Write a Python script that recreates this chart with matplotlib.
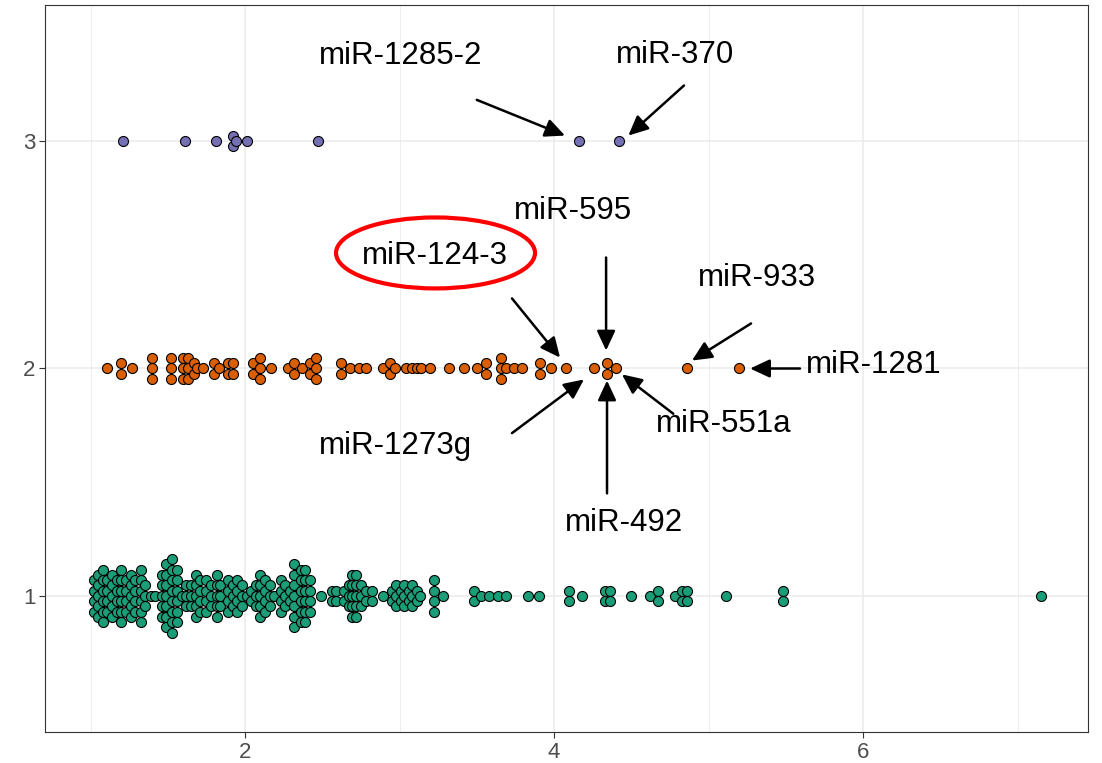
import numpy as np
import matplotlib
matplotlib.use("Agg")
import matplotlib.pyplot as plt
from matplotlib.patches import Ellipse

# ---------------- data ----------------
group_levels = [1, 2, 3]
group_colors = ["#1B9E77", "#D95F02", "#7570B3"]

group1_values = [
    1.02, 1.02, 1.02, 1.02,
    1.05, 1.05, 1.05, 1.05, 1.05,
    1.08, 1.08, 1.08, 1.08, 1.08, 1.08,
    1.11, 1.11, 1.11, 1.11,
    1.14, 1.14, 1.14, 1.14, 1.14,
    1.17, 1.17, 1.17, 1.17,
    1.20, 1.20, 1.20, 1.20, 1.20, 1.20,
    1.23, 1.23, 1.23, 1.23,
    1.26, 1.26, 1.26, 1.26, 1.26,
    1.29, 1.29, 1.29, 1.29,
    1.33, 1.33, 1.33, 1.33, 1.33, 1.33,
    1.35, 1.35, 1.35,
    1.39, 1.42,
    1.46, 1.46, 1.46, 1.46, 1.46,
    1.49, 1.49, 1.49, 1.49, 1.49, 1.49, 1.49,
    1.53, 1.53, 1.53, 1.53, 1.53, 1.53, 1.53, 1.53,
    1.56, 1.56, 1.56, 1.56, 1.56, 1.56,
    1.59,
    1.62, 1.62, 1.62,
    1.65, 1.65, 1.65,
    1.68, 1.68, 1.68, 1.68, 1.68,
    1.71, 1.71, 1.71, 1.71,
    1.75, 1.75, 1.75, 1.75,
    1.78, 1.78, 1.78,
    1.82, 1.82, 1.82, 1.82, 1.82,
    1.84, 1.84, 1.84,
    1.89, 1.89, 1.89, 1.89,
    1.92, 1.92, 1.92,
    1.95, 1.95, 1.95, 1.95,
    1.98, 1.98, 1.98,
    2.01,
    2.04, 2.04,
    2.07, 2.07, 2.07,
    2.10, 2.10, 2.10, 2.10, 2.10,
    2.13, 2.13, 2.13, 2.13,
    2.16, 2.16, 2.16,
    2.19,
    2.23, 2.23, 2.23, 2.23,
    2.26, 2.26, 2.26,
    2.29, 2.29,
    2.32, 2.32, 2.32, 2.32, 2.32, 2.32, 2.32,
    2.36, 2.36, 2.36, 2.36, 2.36, 2.36,
    2.39, 2.39, 2.39, 2.39, 2.39, 2.39,
    2.42, 2.42, 2.42, 2.42,
    2.49,
    2.56, 2.56, 2.59, 2.59,
    2.64, 2.64,
    2.67, 2.67, 2.67,
    2.69, 2.69, 2.69, 2.69, 2.69,
    2.72, 2.72, 2.72, 2.72, 2.72,
    2.75, 2.75, 2.75,
    2.78, 2.78,
    2.82, 2.82,
    2.89,
    2.95, 2.95,
    2.98, 2.98, 2.98,
    3.01, 3.01,
    3.03, 3.03, 3.03,
    3.06, 3.06,
    3.08, 3.08, 3.08,
    3.11, 3.11,
    3.13,
    3.22, 3.22, 3.22, 3.22,
    3.28,
    3.48, 3.48, 3.53, 3.58, 3.64, 3.69, 3.83, 3.90,
    4.10, 4.10, 4.18, 4.33, 4.33, 4.36, 4.36,
    4.50, 4.62, 4.67, 4.67, 4.78, 4.83, 4.83, 4.86, 4.86,
    5.11, 5.48, 5.48, 7.15,
]

group2_values = [
    1.105, 1.20, 1.20, 1.27,
    1.40, 1.40, 1.40,
    1.52, 1.52, 1.52,
    1.60, 1.60, 1.60,
    1.63, 1.63, 1.63,
    1.67, 1.67, 1.69, 1.73,
    1.80, 1.80, 1.83,
    1.89, 1.89, 1.92, 1.92,
    2.05, 2.05, 2.10, 2.10, 2.10, 2.17,
    2.28, 2.32, 2.32, 2.37, 2.42, 2.42, 2.46, 2.46, 2.46,
    2.62, 2.62, 2.68, 2.74, 2.78,
    2.89, 2.94, 2.94, 2.97,
    3.04, 3.08, 3.11, 3.14, 3.20,
    3.32, 3.42, 3.50, 3.56, 3.56,
    3.66, 3.66, 3.66, 3.69, 3.74, 3.79,
    3.91, 3.91, 3.98,
    4.08, 4.26, 4.34, 4.34, 4.40, 4.86, 5.20,
]

group3_values = [1.21, 1.61, 1.81, 1.92, 1.92, 1.94, 2.01, 2.47, 4.16, 4.42]

# annotations: label, text position (x, y), arrow tail (x, y), arrow head (x, y)
ann_labels = ["miR-1285-2", "miR-370", "miR-595", "miR-124-3", "miR-933",
              "miR-1281", "miR-551a", "miR-492", "miR-1273g"]
ann_text_x = [3.006, 4.786, 4.123, 3.230, 5.314, 6.068, 5.100, 4.453, 2.971]
ann_text_y = [3.339, 3.341, 2.657, 2.460, 2.363, 1.980, 1.720, 1.285, 1.624]
ann_tail_x = [3.500, 4.841, 4.337, 3.728, 5.275, 5.592, 4.772, 4.343, 3.728]
ann_tail_y = [3.181, 3.244, 2.488, 2.308, 2.198, 2.000, 1.801, 1.451, 1.716]
ann_head_x = [4.071, 4.481, 4.337, 4.039, 4.893, 5.269, 4.440, 4.343, 4.194]
ann_head_y = [3.024, 3.024, 2.079, 2.048, 2.035, 2.000, 1.974, 1.947, 1.952]

highlight_center = (3.233, 2.508)
highlight_size = (1.288, 0.312)

x_limits = (0.7055, 7.456)
y_limits = (0.402, 3.598)
x_major = [2, 4, 6]
x_minor = [1, 3, 5, 7]
y_major = [1, 2, 3]

# ---------------- figure ----------------
W, H, DPI = 1102, 763, 100
fig = plt.figure(figsize=(W / DPI, H / DPI), dpi=DPI)
left, right, top, bottom = 45, 1088, 5, 732
ax = fig.add_axes([left / W, (H - bottom) / H, (right - left) / W, (bottom - top) / H])
ax.set_xlim(*x_limits)
ax.set_ylim(*y_limits)

px_per_y = (bottom - top) / (y_limits[1] - y_limits[0])
stack_px = 10.5


def stacked_positions(values, level):
    vals = np.asarray(values, dtype=float)
    xs, ys = [], []
    for u in np.unique(vals):
        n = int(np.sum(vals == u))
        offs = (np.arange(n)[::-1] - (n - 1) / 2.0) * stack_px / px_per_y
        xs.extend([u] * n)
        ys.extend(list(level + offs))
    return np.array(xs), np.array(ys)


# grid
ax.set_xticks(x_major)
ax.set_xticks(x_minor, minor=True)
ax.set_yticks(y_major)
ax.grid(which="major", color="#EBEBEB", linewidth=1.1, zorder=0)
ax.grid(which="minor", axis="x", color="#EBEBEB", linewidth=0.6, zorder=0)
ax.set_axisbelow(True)

for vals, lvl, col in zip([group1_values, group2_values, group3_values], group_levels, group_colors):
    xs, ys = stacked_positions(vals, lvl)
    ax.scatter(xs, ys, s=52, c=col, edgecolors="black", linewidths=0.8, zorder=3)

font = "Liberation Sans"
for lab, tx, ty, ax0, ay0, hx, hy in zip(ann_labels, ann_text_x, ann_text_y,
                                        ann_tail_x, ann_tail_y, ann_head_x, ann_head_y):
    ax.text(tx, ty, lab, ha="center", va="baseline", fontsize=22.5, family=font,
            color="black", zorder=5)
    ax.annotate("", xy=(hx, hy), xytext=(ax0, ay0),
                arrowprops=dict(arrowstyle="-|>,head_length=0.6,head_width=0.28",
                                mutation_scale=20, lw=1.8, color="black",
                                shrinkA=0, shrinkB=0), zorder=4)

ax.add_patch(Ellipse(highlight_center, highlight_size[0], highlight_size[1],
                     fill=False, edgecolor="#FF0000", linewidth=3.0, zorder=6))

for sp in ax.spines.values():
    sp.set_color("#333333")
    sp.set_linewidth(0.8)

ax.tick_params(which="major", length=4, width=0.8, color="#333333",
               labelsize=16, labelcolor="#4D4D4D", pad=3)
ax.tick_params(which="minor", length=0)
for lbl in ax.get_xticklabels() + ax.get_yticklabels():
    lbl.set_family(font)
ax.set_xlabel("")
ax.set_ylabel("")

fig.savefig("out.png", dpi=DPI)
